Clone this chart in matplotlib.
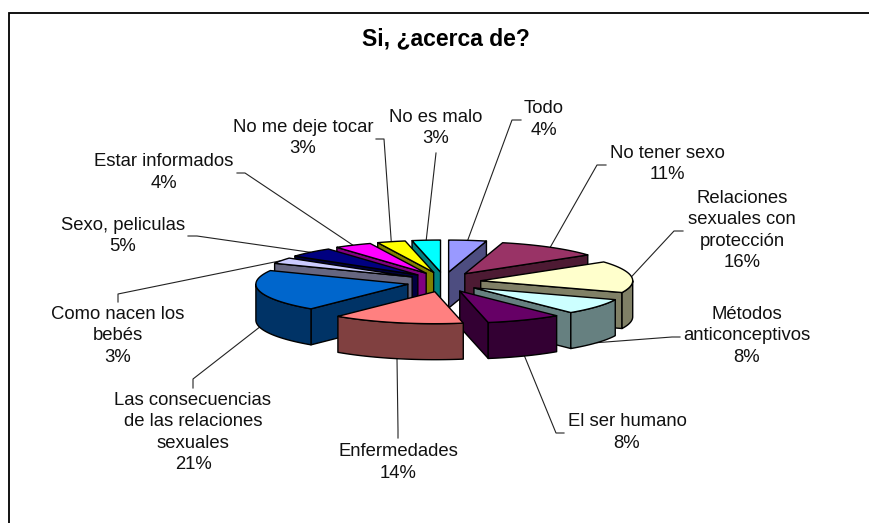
import numpy as np
import matplotlib
matplotlib.use("Agg")
import matplotlib.pyplot as plt
from matplotlib.colors import to_rgb

plt.rcParams['font.family'] = ['Liberation Sans', 'DejaVu Sans']

# data
labels = ["Todo", "No tener sexo", "Relaciones\nsexuales con\nprotección", "Métodos\nanticonceptivos",
          "El ser humano", "Enfermedades", "Las consecuencias\nde las relaciones\nsexuales",
          "Como nacen los\nbebés", "Sexo, peliculas", "Estar informados", "No me deje tocar", "No es malo"]
values = [4, 11, 16, 8, 8, 14, 21, 3, 5, 4, 3, 3]
colors = ["#9999FF", "#993366", "#FFFFCC", "#CCFFFF", "#660066", "#FF8080",
          "#0066CC", "#CCCCFF", "#000080", "#FF00FF", "#FFFF00", "#00FFFF"]

# layout, in pixels of the 869x523 picture
cx, cy = 444, 282
rx, ry = 152, 32
explode_x, explode_y = 37, 10
depth = 36
label_pos = [(544, 119.5), (667, 164), (742, 230.5), (747, 336), (627, 432.5), (398, 462.5),
             (193, 432.5), (118, 336), (123, 236), (164, 172.5), (303, 138), (436, 128)]
# leader start and elbow next to each label
leader_pts = [[(521, 120), (512, 120)], [(606, 165), (597, 165)], [(683, 231), (674, 231)],
              [(680, 337), (672, 337)], [(564, 433), (556, 433)], [(398, 438), (398, 430)],
              [(193, 388), (193, 379)], [(118, 302), (118, 294)], [(188, 236), (197, 236)],
              [(237, 173), (245, 173)], [(376, 139), (384, 139)], [(436, 153), (436, 153)]]


def rim(ax0, ay0, bearing):
    return ax0 + rx * np.sin(bearing), ay0 - ry * np.cos(bearing)


def darker(c):
    r, g, b = to_rgb(c)
    return (r * 0.5, g * 0.5, b * 0.5)


fig = plt.figure(figsize=(8.69, 5.23), dpi=100)
ax = fig.add_axes([0, 0, 1, 1])
ax.set_xlim(0, 869)
ax.set_ylim(523, 0)
ax.axis('off')

# chart area: only top and left edges show
ax.plot([9, 9, 869], [523, 13, 13], color='black', lw=1.3, solid_joinstyle='miter', zorder=1)

ax.text(446, 39, "Si, ¿acerca de?", fontsize=16.5, fontweight='bold', ha='center', va='center', color='black')

edges = np.cumsum([0] + values) / sum(values) * 2 * np.pi
mids = (edges[:-1] + edges[1:]) / 2
edge_kw = dict(edgecolor='black', lw=1.0, joinstyle='round')

# back to front
order = np.argsort(-np.cos(mids))
z = 2
for i in order:
    a0, a1, mid = edges[i], edges[i + 1], mids[i]
    ax0 = cx + explode_x * np.sin(mid)
    ay0 = cy - explode_y * np.cos(mid)
    side = darker(colors[i])

    # cut faces
    for a, show in ((a0, np.sin(a0) < -1e-6), (a1, np.sin(a1) > 1e-6)):
        if show:
            x1, y1 = rim(ax0, ay0, a)
            ax.fill([ax0, x1, x1, ax0], [ay0, y1, y1 + depth, ay0 + depth], facecolor=side, zorder=z, **edge_kw)
            z += 1

    # outer wall, front half only
    lo, hi = max(a0, np.pi / 2), min(a1, 3 * np.pi / 2)
    if lo < hi:
        t = np.linspace(lo, hi, 60)
        x1, y1 = rim(ax0, ay0, t)
        ax.fill(np.r_[x1, x1[::-1]], np.r_[y1, y1[::-1] + depth], facecolor=side, zorder=z, **edge_kw)
        z += 1

    # top
    t = np.linspace(a0, a1, 60)
    x1, y1 = rim(ax0, ay0, t)
    ax.fill(np.r_[ax0, x1], np.r_[ay0, y1], facecolor=colors[i], zorder=z, **edge_kw)
    z += 1

    # leader line down to the slice
    ex, ey = rim(ax0, ay0, mid)
    if np.cos(mid) < 0:
        ey += depth
    pts = leader_pts[i] + [(ex, ey)]
    ax.plot([p[0] for p in pts], [p[1] for p in pts], color='#222222', lw=0.8, zorder=1.5)

for i in range(len(values)):
    ax.text(label_pos[i][0], label_pos[i][1], f"{labels[i]}\n{values[i]}%", fontsize=13.3,
            ha='center', va='center', ma='center', color='#111111', linespacing=1.33)

fig.savefig("out.png", dpi=100)
